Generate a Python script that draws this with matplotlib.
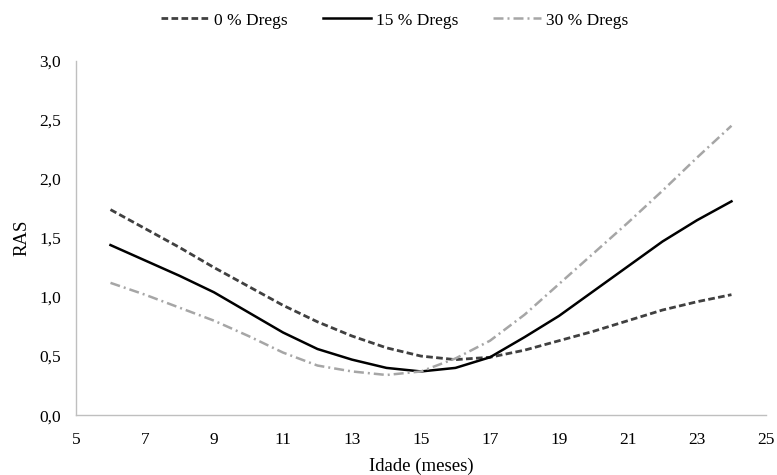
import matplotlib
matplotlib.use("Agg")
import matplotlib.pyplot as plt
from matplotlib.ticker import FuncFormatter

plt.rcParams['font.family'] = ['Liberation Serif', 'DejaVu Serif']

# idade em meses
months = [6, 7, 8, 9, 10, 11, 12, 13, 14, 15, 16, 17, 18, 19, 20, 21, 22, 23, 24]

# RAS por nivel de dregs
ras_0 = [1.74, 1.58, 1.42, 1.25, 1.09, 0.93, 0.79, 0.67, 0.57, 0.50, 0.47, 0.49,
         0.55, 0.63, 0.71, 0.80, 0.89, 0.96, 1.02]
ras_15 = [1.44, 1.31, 1.18, 1.04, 0.87, 0.70, 0.56, 0.47, 0.40, 0.37, 0.40, 0.49,
          0.66, 0.84, 1.05, 1.26, 1.47, 1.65, 1.81]
ras_30 = [1.12, 1.02, 0.91, 0.80, 0.67, 0.53, 0.42, 0.37, 0.34, 0.37, 0.48, 0.63,
          0.85, 1.11, 1.37, 1.63, 1.90, 2.18, 2.45]

fig = plt.figure(figsize=(7.77, 4.75), dpi=100)
ax = fig.add_axes([0.0978, 0.126, 0.888, 0.746])

ax.plot(months, ras_0, color="#404040", lw=2.0, dashes=(2.4, 1.2), label="0 % Dregs")
ax.plot(months, ras_15, color="black", lw=1.8, label="15 % Dregs")
ax.plot(months, ras_30, color="#a6a6a6", lw=1.8, dashes=(4, 1.6, 0.8, 1.6), label="30 % Dregs")

ax.set_xlim(5, 25)
ax.set_ylim(0, 3)
ax.set_xticks(range(5, 26, 2))
ax.set_yticks([0, 0.5, 1.0, 1.5, 2.0, 2.5, 3.0])
ax.yaxis.set_major_formatter(FuncFormatter(lambda v, p: f"{v:.1f}".replace(".", ",")))

for s in ["top", "right"]:
    ax.spines[s].set_visible(False)
for s in ["left", "bottom"]:
    ax.spines[s].set_color("#bfbfbf")
    ax.spines[s].set_linewidth(1.0)

ax.tick_params(axis="both", length=0, labelsize=12.5)
ax.tick_params(axis="x", pad=12)
ax.tick_params(axis="y", pad=11)

ax.set_xlabel("Idade (meses)", fontsize=13.5, labelpad=7)
ax.set_ylabel("RAS", fontsize=13.5, labelpad=6)

fig.legend(loc="center", bbox_to_anchor=(0.508, 0.957), ncol=3, frameon=False,
           fontsize=12.5, handlelength=2.76, columnspacing=2.0, handletextpad=0.3)

fig.savefig("out.png", dpi=100)
